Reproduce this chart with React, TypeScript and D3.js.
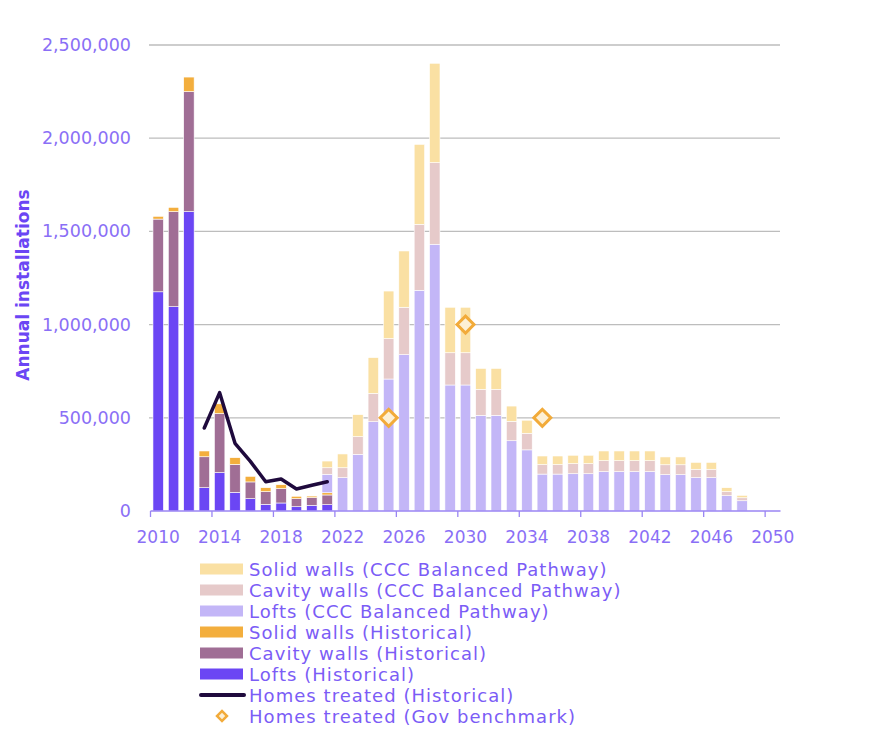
import * as d3 from "d3";

const years = d3.range(2010, 2051);

// historical installations, 2010-2021
const histYears = d3.range(2010, 2022);
const loftsHist = [1176000, 1096000, 1606000, 125000, 206000, 100000, 66000, 36000, 43000, 23000, 30000, 34000];
const cavityHist = [390000, 510000, 644000, 166000, 317000, 150000, 90000, 68000, 77000, 43000, 42000, 52000];
const solidHist = [15000, 23000, 78000, 31000, 52000, 36000, 30000, 21000, 21000, 13000, 8000, 12000];

// CCC balanced pathway, 2021-2050
const cccYears = d3.range(2021, 2051);
const loftsCCC = [99000, 179000, 304000, 479000, 708000, 839000, 1184000, 1431000, 676000, 676000, 513000, 513000, 377000, 328000, 198000, 198000, 200000, 200000, 211000, 211000, 211000, 211000, 195000, 195000, 179000, 179000, 82000, 55000, 0, 0];
const cavityCCC = [35000, 53000, 95000, 152000, 217000, 254000, 354000, 438000, 173000, 173000, 140000, 140000, 104000, 89000, 51000, 51000, 54000, 54000, 59000, 59000, 59000, 59000, 53000, 53000, 45000, 45000, 22000, 16000, 0, 0];
const solidCCC = [36000, 74000, 118000, 192000, 255000, 302000, 429000, 533000, 244000, 244000, 112000, 112000, 82000, 70000, 46000, 46000, 45000, 45000, 52000, 52000, 52000, 52000, 42000, 42000, 37000, 37000, 21000, 13000, 0, 0];

const homesYears = d3.range(2013, 2022);
const homesTreated = [445000, 635000, 363000, 266000, 157000, 172000, 118000, 138000, 157000];

const benchYears = [2025, 2030, 2035];
const benchValues = [500000, 1000000, 500000];

const yTicks = [0, 500000, 1000000, 1500000, 2000000, 2500000];
const labelYears = d3.range(2010, 2051, 4);

const keys = ["loftsHist", "cavityHist", "solidHist", "loftsCCC", "cavityCCC", "solidCCC"];
const colors: Record<string, string> = {
  loftsHist: "#6b46f4",
  cavityHist: "#a06e95",
  solidHist: "#f3ae3d",
  loftsCCC: "#c3b6f7",
  cavityCCC: "#e6caca",
  solidCCC: "#fae0a3",
};

const legendItems = [
  { label: "Solid walls (CCC Balanced Pathway)", key: "solidCCC" },
  { label: "Cavity walls (CCC Balanced Pathway)", key: "cavityCCC" },
  { label: "Lofts (CCC Balanced Pathway)", key: "loftsCCC" },
  { label: "Solid walls (Historical)", key: "solidHist" },
  { label: "Cavity walls (Historical)", key: "cavityHist" },
  { label: "Lofts (Historical)", key: "loftsHist" },
  { label: "Homes treated (Historical)", key: "line" },
  { label: "Homes treated (Gov benchmark)", key: "bench" },
];

const font = "'DejaVu Sans', sans-serif";

export default function App() {
  const width = 882;
  const height = 742;

  const x = d3
    .scaleBand<number>()
    .domain(years)
    .range([150.5, 780.5])
    .paddingInner(0.32)
    .paddingOuter(0.16);
  const step = x.step();
  const cx = (yr: number) => (x(yr) as number) + x.bandwidth() / 2;
  const slotStart = (yr: number) => (x(yr) as number) - step * 0.16;

  const y = d3.scaleLinear().domain([0, 2500000]).range([511, 45]);

  const rows = years.map((yr) => {
    const hi = histYears.indexOf(yr);
    const ci = cccYears.indexOf(yr);
    return {
      year: yr,
      loftsHist: hi >= 0 ? loftsHist[hi] : 0,
      cavityHist: hi >= 0 ? cavityHist[hi] : 0,
      solidHist: hi >= 0 ? solidHist[hi] : 0,
      loftsCCC: ci >= 0 ? loftsCCC[ci] : 0,
      cavityCCC: ci >= 0 ? cavityCCC[ci] : 0,
      solidCCC: ci >= 0 ? solidCCC[ci] : 0,
    };
  });

  const series = d3.stack<any>().keys(keys)(rows);

  const line = d3
    .line<number>()
    .x((_, i) => cx(homesYears[i]))
    .y((d) => y(d));

  const legendY0 = 569;
  const legendStep = 21;

  return (
    <svg
      width={width}
      height={height}
      style={{ position: "absolute", left: 0, top: 0, background: "#fff" }}
      fontFamily={font}
    >
      {/* gridlines */}
      {yTicks.slice(1).map((t) => (
        <line key={t} x1={149} x2={780} y1={y(t)} y2={y(t)} stroke="#bdbdbd" strokeWidth={1.3} />
      ))}

      {/* bars */}
      {series.map((s) => (
        <g key={s.key} fill={colors[s.key]}>
          {s
            .filter((d) => d[1] - d[0] > 0)
            .map((d) => (
              <rect
                key={d.data.year}
                x={x(d.data.year)}
                width={x.bandwidth()}
                y={y(d[1])}
                height={y(d[0]) - y(d[1])}
                stroke="#fff"
                strokeWidth={0.6}
              />
            ))}
        </g>
      ))}

      {/* homes treated line */}
      <path
        d={line(homesTreated) || ""}
        fill="none"
        stroke="#1f0a3d"
        strokeWidth={3.5}
        strokeLinejoin="round"
        strokeLinecap="round"
      />

      {/* gov benchmark */}
      {benchValues.map((v, i) => (
        <rect
          key={i}
          x={-6}
          y={-6}
          width={12}
          height={12}
          transform={`translate(${cx(benchYears[i])},${y(v)}) rotate(45)`}
          fill="#fdf0d6"
          stroke="#f2ab3a"
          strokeWidth={3}
        />
      ))}

      {/* x axis */}
      <line x1={150.5} x2={780.5} y1={511} y2={511} stroke="#9a85f3" strokeWidth={1.5} />
      {labelYears.map((yr) => (
        <g key={yr}>
          <line x1={slotStart(yr)} x2={slotStart(yr)} y1={511} y2={517} stroke="#9a85f3" strokeWidth={1.3} />
          <text
            x={cx(yr)}
            y={543}
            textAnchor="middle"
            fontSize={17}
            fill="#8a6ff6"
          >
            {yr}
          </text>
        </g>
      ))}

      {/* y axis labels */}
      {yTicks.map((t) => (
        <text key={t} x={131} y={y(t) + 6} textAnchor="end" fontSize={17.5} fill="#8a6ff6">
          {d3.format(",")(t)}
        </text>
      ))}
      <text
        transform={`translate(29,285) rotate(-90)`}
        textAnchor="middle"
        fontSize={17}
        fill="#6b46f4"
        fontWeight="bold"
      >
        Annual installations
      </text>

      {/* legend */}
      {legendItems.map((it, i) => {
        const cy = legendY0 + i * legendStep;
        return (
          <g key={it.key}>
            {it.key === "line" ? (
              <line x1={201} x2={244} y1={cy} y2={cy} stroke="#1f0a3d" strokeWidth={4} strokeLinecap="round" />
            ) : it.key === "bench" ? (
              <rect
                x={-3.5}
                y={-3.5}
                width={7}
                height={7}
                transform={`translate(222,${cy}) rotate(45)`}
                fill="#fdf0d6"
                stroke="#f2ab3a"
                strokeWidth={2.5}
              />
            ) : (
              <rect x={200} y={cy - 5.5} width={43} height={11} fill={colors[it.key]} />
            )}
            <text x={249} y={cy + 6.5} fontSize={18} letterSpacing={1.05} fill="#7b5cf6">
              {it.label}
            </text>
          </g>
        );
      })}
    </svg>
  );
}
